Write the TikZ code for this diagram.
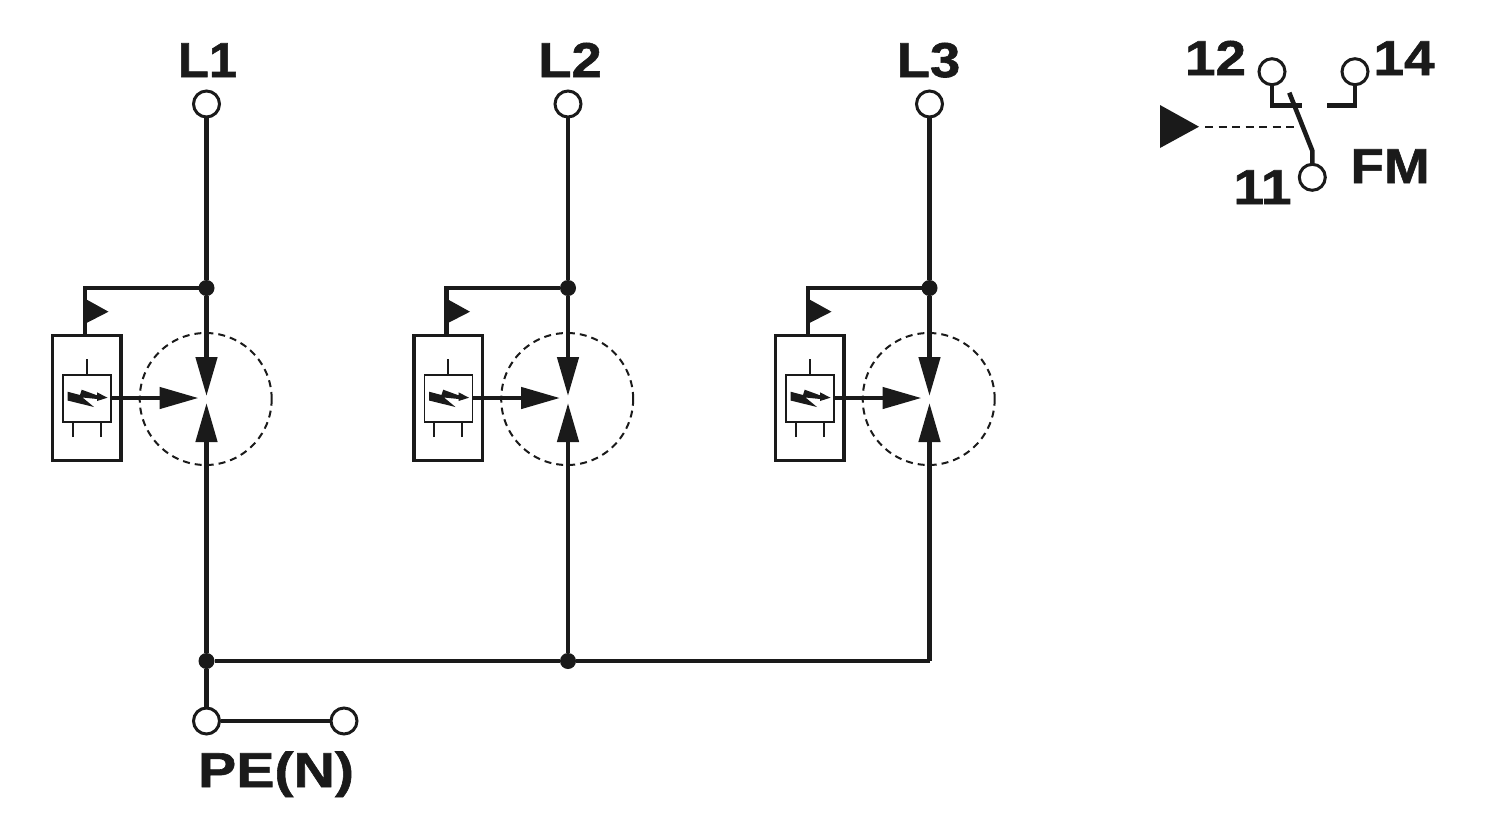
\documentclass[tikz,border=0pt]{standalone}
\usepackage{fontspec}
\setmainfont{Liberation Sans}
\newfontfamily\labfont{Liberation Sans}[BoldFeatures={FakeBold=1.2}]
\usetikzlibrary{arrows.meta}
\definecolor{ink}{HTML}{1A1A1A}
\tikzset{
  wire/.style={draw=ink,line width=4.6pt},
  thin wire/.style={draw=ink,line width=1.8pt},
  term/.style={circle,draw=ink,fill=white,line width=3pt,minimum size=26pt,inner sep=0pt,outer sep=1pt},
  jdot/.style={circle,fill=ink,minimum size=16pt,inner sep=0pt,outer sep=0pt},
  lab/.style={text=ink,font=\fontsize{49}{49}\labfont\bfseries\addfontfeature{FakeStretch=1.12},anchor=base,inner sep=0pt},
  labl/.style={text=ink,font=\fontsize{49}{49}\labfont\bfseries\addfontfeature{FakeStretch=1.03},anchor=base,inner sep=0pt},
  labw/.style={text=ink,font=\fontsize{49}{49}\labfont\bfseries\addfontfeature{FakeStretch=1.11},anchor=base,inner sep=0pt},
  labpe/.style={text=ink,font=\fontsize{49}{49}\labfont\bfseries\addfontfeature{FakeStretch=1.17},anchor=base,inner sep=0pt},
  outerbox/.style={draw=ink,fill=white,line width=3.4pt,minimum width=68.5pt,minimum height=125pt,inner sep=0pt,outer sep=0pt},
  innerbox/.style={draw=ink,fill=white,line width=1.8pt,minimum width=48pt,minimum height=47pt,inner sep=0pt,outer sep=0pt},
  dashcirc/.style={circle,draw=ink,line width=2pt,dash pattern=on 7pt off 5pt,minimum size=132pt,inner sep=0pt,outer sep=0pt},
  bigtip/.style={-{Triangle[length=39pt,width=21pt]}},
  solid tri/.style={fill=ink,draw=none}
}
\begin{document}
\begin{tikzpicture}[x=1pt,y=-1pt]
\useasboundingbox (0,0) rectangle (1500,820);
\fill[white] (0,0) rectangle (1500,820);
\node[jdot] (b1) at (206.5,661) {};
\node[jdot] (b2) at (568,661) {};
\coordinate (b3) at (929.5,661);
\node[labl] (L1) at (207.5,77) {L1};
\node[labw] (L2) at (570,77) {L2};
\node[labw] (L3) at (928.5,77) {L3};
\foreach \n/\xx in {1/206.5,2/568,3/929.5}{
  \node[term] (t\n) at (\xx,104) {};
  \node[jdot] (j\n) at (\xx,288) {};
  \node[dashcirc] (c\n) at (\xx-0.8,399) {};
  \coordinate (up\n) at (\xx,396);
  \coordinate (dn\n) at (\xx,403);
  \node[outerbox] (o\n) at (\xx-119.8,398) {};
  \node[innerbox] (i\n) at (\xx-119.5,398.5) {};
  \coordinate (go\n) at (\xx-8,398);
  \coordinate (corner\n) at (\xx-121.5,288);
  \coordinate (otop\n) at (\xx-121.5,335);
  \draw[wire] (t\n) -- (j\n);
  \draw[wire,bigtip] (j\n) -- (up\n);
  \draw[wire,bigtip] (b\n) -- (dn\n);
  \draw[wire,line join=miter] (j\n) -- (corner\n) -- (otop\n);
  \draw[wire,bigtip] (i\n.east |- go\n) -- (go\n);
  \fill[ink] (\xx-120,299.5) -- (\xx-98,311.7) -- (\xx-120,323) -- cycle;
  \coordinate (s1\n) at (\xx-119.8,359);
  \coordinate (s2\n) at (\xx-133.8,437);
  \coordinate (s3\n) at (\xx-105.8,437);
  \draw[thin wire] (s1\n) -- (i\n.north -| s1\n);
  \draw[thin wire] (s2\n) -- (i\n.south -| s2\n);
  \draw[thin wire] (s3\n) -- (i\n.south -| s3\n);
  \fill[ink] (\xx-139,391.7) -- (\xx-126.5,395) -- (\xx-124.8,389.7) -- (\xx-109.5,395.3)
    -- (\xx-109.5,392.3) -- (\xx-99,397.7) -- (\xx-109.5,401) -- (\xx-109.5,399)
    -- (\xx-124,397.5) -- (\xx-112.5,407) -- (\xx-139,400.5) -- cycle;
}
\draw[wire] (b1) -- (b2) -- (b3);
\node[term] (pe1) at (206.5,721) {};
\node[term] (pe2) at (344,721) {};
\draw[wire] (b1) -- (pe1);
\draw[wire] (pe1) -- (pe2);
\node[labpe] (pelab) at (276,787) {PE(N)};
\node[term] (k12) at (1272,71.7) {};
\node[term] (k14) at (1355,71.7) {};
\node[term] (k11) at (1312.3,177.3) {};
\coordinate (a1) at (1272,105.3);
\coordinate (a2) at (1301.7,105.3);
\coordinate (a3) at (1355,105.3);
\coordinate (a4) at (1326.7,105.3);
\coordinate (sw1) at (1312.3,150.7);
\coordinate (sw2) at (1289.3,92.7);
\draw[wire] (k12) -- (a1) -- (a2);
\draw[wire] (k14) -- (a3) -- (a4);
\draw[wire,line join=round] (k11) -- (sw1) -- (sw2);
\coordinate (tri) at (1199,126.7);
\coordinate (d1) at (1205,126.7);
\coordinate (d2) at (1297,126.7);
\fill[solid tri] (1160,105) -- (tri) -- (1160,148) -- cycle;
\draw[draw=ink,line width=2pt,dash pattern=on 8pt off 5.5pt] (d1) -- (d2);
\node[lab] (l12) at (1215.5,75) {12};
\node[lab] (l14) at (1404,75) {14};
\node[lab] (l11) at (1262.5,204) {11};
\node[lab] (lfm) at (1390,183) {FM};
\end{tikzpicture}
\end{document}
